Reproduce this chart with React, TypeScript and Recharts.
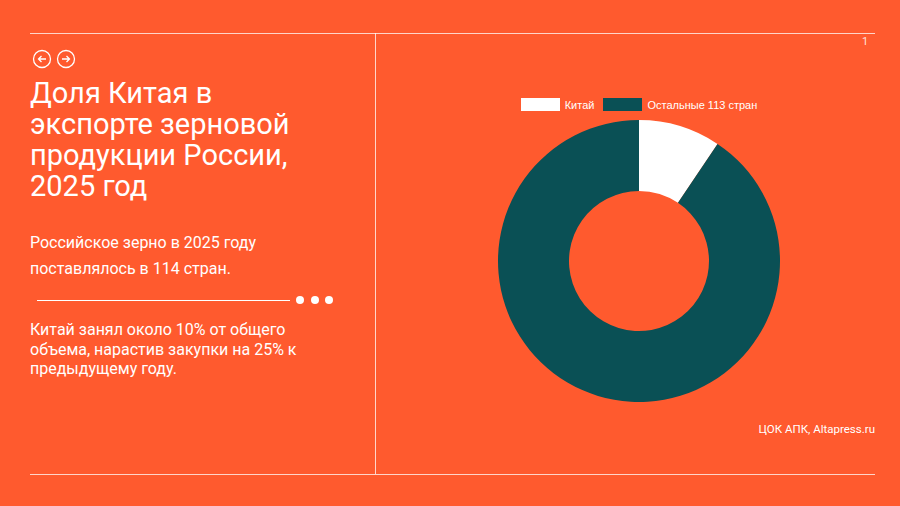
import { PieChart, Pie, Cell, Legend } from "recharts";

const categories = ["Китай", "Остальные 113 стран"];
const shares = [9.4, 90.6];
const sliceColors = ["#FFFFFF", "#0A5055"];

const titleLines = ["Доля Китая в", "экспорте зерновой", "продукции России,", "2025 год"];
const introLines = ["Российское зерно в 2025 году", "поставлялось в 114 стран."];
const noteLines = ["Китай занял около 10% от общего", "объема, нарастив закупки на 25% к", "предыдущему году."];
const source = "ЦОК АПК, Altapress.ru";
const pageNumber = "1";

const BG = "#FF5A2E";
const LINE = "rgba(255,255,255,0.75)";

const data = categories.map((name, i) => ({ name, value: shares[i] }));

function LegendContent() {
  return (
    <div style={{ display: "flex", justifyContent: "center", alignItems: "center", height: 13, fontFamily: "'Liberation Sans', Arial, sans-serif", fontSize: 11, color: "#FFFFFF" }}>
      {data.map((d, i) => (
        <div key={d.name} style={{ display: "flex", alignItems: "center", marginRight: i === 0 ? 9 : 0 }}>
          <span style={{ display: "inline-block", width: 39, height: 13, backgroundColor: sliceColors[i], marginRight: 5 }} />
          <span>{d.name}</span>
        </div>
      ))}
    </div>
  );
}

function ArrowCircle({ left, dir }: { left: number; dir: "l" | "r" }) {
  return (
    <svg width={20} height={20} style={{ position: "absolute", left, top: 49 }}>
      <circle cx={10} cy={10} r={8.5} fill="none" stroke="#fff" strokeWidth={1.3} />
      {dir === "l" ? (
        <path d="M14 10 H6.5 M9.5 7 L6.5 10 L9.5 13" fill="none" stroke="#fff" strokeWidth={1.3} />
      ) : (
        <path d="M6 10 H13.5 M10.5 7 L13.5 10 L10.5 13" fill="none" stroke="#fff" strokeWidth={1.3} />
      )}
    </svg>
  );
}

export default function App() {
  return (
    <div style={{ position: "absolute", left: 0, top: 0, width: 900, height: 506, backgroundColor: BG, overflow: "hidden", fontFamily: "Roboto, sans-serif", color: "#fff" }}>
      {/* frame lines */}
      <div style={{ position: "absolute", left: 30, top: 33, width: 845, height: 1, backgroundColor: LINE }} />
      <div style={{ position: "absolute", left: 30, top: 474, width: 845, height: 1, backgroundColor: LINE }} />
      <div style={{ position: "absolute", left: 375, top: 33, width: 1, height: 441, backgroundColor: LINE }} />
      <div style={{ position: "absolute", left: 862, top: 35, fontSize: 11, color: "rgba(255,255,255,0.85)" }}>{pageNumber}</div>

      <ArrowCircle left={32} dir="l" />
      <ArrowCircle left={56} dir="r" />

      <div style={{ position: "absolute", left: 30, top: 78, fontSize: 29, lineHeight: "31px" }}>
        {titleLines.map((t) => (
          <div key={t}>{t}</div>
        ))}
      </div>

      <div style={{ position: "absolute", left: 30, top: 230, fontSize: 16, lineHeight: "26px" }}>
        {introLines.map((t) => (
          <div key={t}>{t}</div>
        ))}
      </div>

      <div style={{ position: "absolute", left: 37, top: 300, width: 253, height: 1, backgroundColor: "#fff" }} />
      {[300, 315, 329].map((x) => (
        <div key={x} style={{ position: "absolute", left: x - 4, top: 296, width: 8, height: 8, borderRadius: 4, backgroundColor: "#fff" }} />
      ))}

      <div style={{ position: "absolute", left: 30, top: 320, fontSize: 16, lineHeight: "19.5px" }}>
        {noteLines.map((t) => (
          <div key={t}>{t}</div>
        ))}
      </div>

      <div style={{ position: "absolute", right: 25, top: 422, fontSize: 11.5 }}>{source}</div>

      <div style={{ position: "absolute", left: 389, top: 11 }}>
        <PieChart width={500} height={500} margin={{ top: 0, right: 0, bottom: 0, left: 0 }}>
          <Legend content={<LegendContent />} verticalAlign="top" wrapperStyle={{ top: 87, left: 0, width: 500 }} />
          <Pie
            data={data}
            dataKey="value"
            nameKey="name"
            cx={250}
            cy={237}
            innerRadius={70}
            outerRadius={141}
            startAngle={90}
            endAngle={-270}
            stroke="none"
            isAnimationActive={false}
          >
            {data.map((d, i) => (
              <Cell key={d.name} fill={sliceColors[i]} />
            ))}
          </Pie>
        </PieChart>
      </div>
    </div>
  );
}
